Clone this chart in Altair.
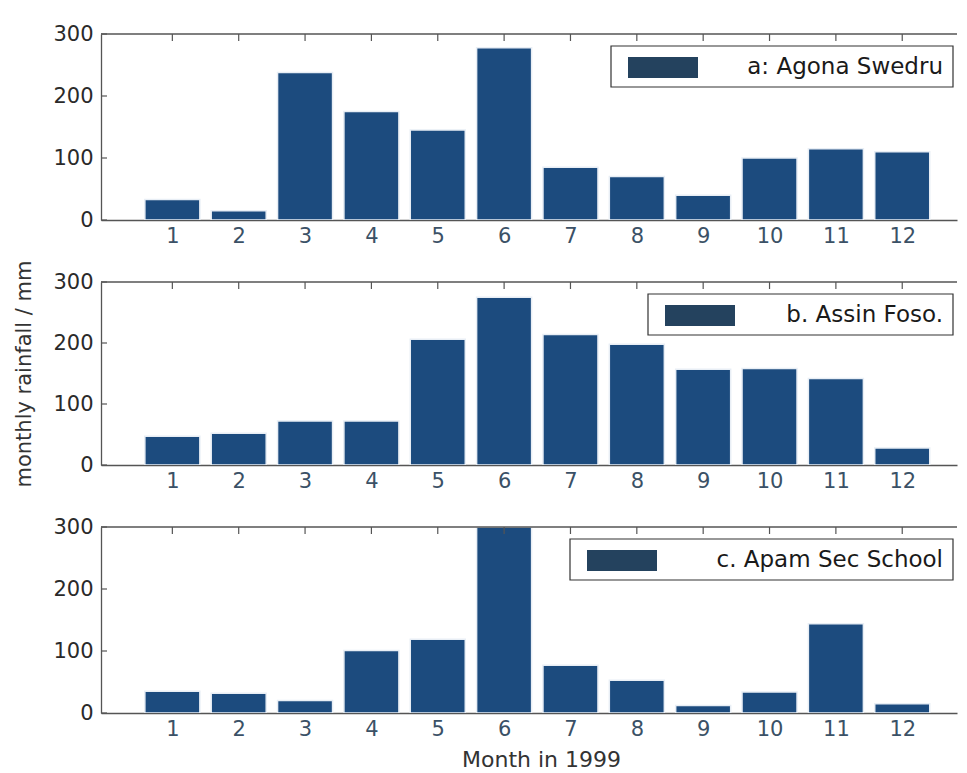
import altair as alt
import pandas as pd

months = list(range(1, 13))
agona = [33, 15, 238, 175, 145, 278, 85, 70, 40, 100, 115, 110]
assin = [47, 52, 72, 72, 206, 275, 214, 198, 157, 158, 142, 28]
apam = [35, 32, 20, 101, 119, 300, 77, 53, 12, 34, 144, 15]
labels = ["a: Agona Swedru", "b. Assin Foso.", "c. Apam Sec School"]
y_ticks = [0, 100, 200, 300]

BAR = "#1c4b7e"
FONT = "DejaVu Sans"
LINE = "#555555"
W = 856
heights = [186, 183, 186]
legend_left = [510, 547, 469]


def panel(values, label, left, h, middle=False, last=False):
    df = pd.DataFrame({"month": months, "value": values})
    one = pd.DataFrame({"label": [label]})
    tk = pd.DataFrame({"tick": y_ticks})
    xs = alt.Scale(domain=[0, 12.75], nice=False, zero=False)
    ys = alt.Scale(domain=[0, 300], nice=False)
    x_axis = alt.Axis(
        values=months, format="d", ticks=False, domain=True,
        domainColor=LINE, domainWidth=1.3, grid=False,
        labelPadding=5, labelFontSize=21, labelColor="#3b5166", labelFont=FONT,
        title="Month in 1999" if last else None,
        titleFontSize=22, titleFont=FONT, titleFontWeight="normal",
        titleColor="#333333", titlePadding=10, titleX=440,
    )
    y_axis = alt.Axis(
        values=y_ticks, ticks=False, domain=True,
        domainColor=LINE, domainWidth=1.3, grid=False,
        labelPadding=8, labelFontSize=21, labelColor="#2a2a2a", labelFont=FONT,
        title="monthly rainfall / mm" if middle else None,
        titleFontSize=21, titleFont=FONT, titleFontWeight="normal",
        titleColor="#333333", titlePadding=18,
    )
    bars = alt.Chart(df).mark_bar(
        size=55, color=BAR, stroke="#e8eef5", strokeWidth=1.5, clip=True
    ).encode(
        x=alt.X("month:Q", scale=xs, axis=x_axis),
        y=alt.Y("value:Q", scale=ys, axis=y_axis),
    )
    top_line = alt.Chart(one).mark_rule(color=LINE, strokeWidth=1.3).encode(
        x=alt.value(0), x2=alt.value(W), y=alt.value(0)
    )
    top_ticks = alt.Chart(df).mark_rule(color=LINE, strokeWidth=1.2).encode(
        x=alt.X("month:Q", scale=xs), y=alt.value(0), y2=alt.value(7)
    )
    left_ticks = alt.Chart(tk).mark_rule(color=LINE, strokeWidth=1.2).encode(
        y=alt.Y("tick:Q", scale=ys), x=alt.value(0), x2=alt.value(6)
    )
    box = alt.Chart(one).mark_rect(fill="white", stroke="#333333", strokeWidth=1.2).encode(
        x=alt.value(left), x2=alt.value(852), y=alt.value(12), y2=alt.value(53)
    )
    swatch = alt.Chart(one).mark_rect(color="#24425e").encode(
        x=alt.value(left + 17), x2=alt.value(left + 87), y=alt.value(23), y2=alt.value(44)
    )
    text = alt.Chart(one).mark_text(
        align="right", baseline="middle", fontSize=23, font=FONT, color="#1a1a1a"
    ).encode(x=alt.value(842), y=alt.value(33), text="label:N")
    return alt.layer(bars, top_line, top_ticks, left_ticks, box, swatch, text).properties(
        width=W, height=h
    )


chart = alt.vconcat(
    panel(agona, labels[0], legend_left[0], heights[0]),
    panel(assin, labels[1], legend_left[1], heights[1], middle=True),
    panel(apam, labels[2], legend_left[2], heights[2], last=True),
    spacing=62,
    bounds="flush",
).properties(
    padding={"top": 15, "left": 5, "right": 0, "bottom": 0}
).configure_view(
    strokeWidth=0
)

chart.save("out.html", embed_options={"renderer": "svg", "actions": False})
